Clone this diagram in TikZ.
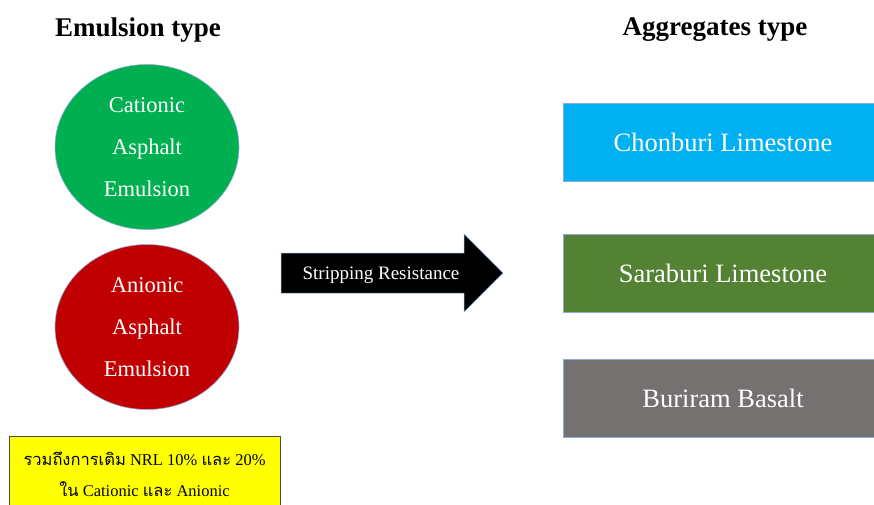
\documentclass[tikz,border=0pt]{standalone}
\usepackage{fontspec}
\setmainfont{Liberation Serif}
\newfontfamily\thaifont[Script=Thai]{Loma}
\usetikzlibrary{shapes.geometric,positioning,fit}
\definecolor{catgreen}{HTML}{00B050}
\definecolor{anired}{HTML}{C00000}
\definecolor{chonblue}{HTML}{00B0F0}
\definecolor{saragreen}{HTML}{548235}
\definecolor{burigrey}{HTML}{767171}
\definecolor{edgeblue}{HTML}{8FAADC}
\definecolor{noteyellow}{HTML}{FFFF00}

\begin{document}
\begin{tikzpicture}[x=1pt,y=-1pt, title/.style={font=\fontsize{27}{32}\selectfont\bfseries}]
				\tikzset{emul/.style={ellipse,draw=edgeblue,line width=0.6pt,minimum width=184pt,minimum height=165pt,inner sep=0pt,text=white,align=center,font=\fontsize{22.5}{42}\selectfont}}
				\tikzset{aggr/.style={rectangle,draw=edgeblue,line width=0.6pt,minimum width=320pt,minimum height=78pt,inner sep=0pt,text=white,text centered,font=\fontsize{26.5}{30}\selectfont}}

				\useasboundingbox (0,0) rectangle (874,504);

				% Titles
				\node[title] (emtitle) at (138,30) {Emulsion type};
				\node[title] (agtitle) at (715,30) {Aggregates type};

				% Emulsions
				\node[emul, fill=catgreen] (cationic) at (147,147) {Cationic\\Asphalt\\Emulsion};
				\node[emul, fill=anired] (anionic) at (147,327) {Anionic\\Asphalt\\Emulsion};

				% Aggregates
				\node[aggr, fill=chonblue] (chonburi) at (723,142) {Chonburi Limestone};
				\node[aggr, fill=saragreen] (saraburi) at (723,273) {Saraburi Limestone};
				\node[aggr, fill=burigrey] (buriram) at (723,398) {Buriram Basalt};

				% Arrow
				\filldraw[fill=black, draw=edgeblue, line width=0.5pt] (281,253) -- (464,253) -- (464,234) -- (503,273) -- (464,312) -- (464,293) -- (281,293) -- cycle;
				\node[text=white, font=\fontsize{19}{22}\selectfont] (stripping) at (381,275) {Stripping Resistance};

				% Note
				\node[rectangle, minimum width=271pt, minimum height=77pt, inner sep=0pt, draw=black!70, line width=0.8pt, fill=noteyellow, align=center, font=\fontsize{16.5}{31}\selectfont] (nrlnote) at (144.5,474.5) {{\thaifont รวมถึงการเติม} NRL 10\% {\thaifont และ} 20\%\\{\thaifont ใน} Cationic {\thaifont และ} Anionic};

			\end{tikzpicture}
\end{document}
